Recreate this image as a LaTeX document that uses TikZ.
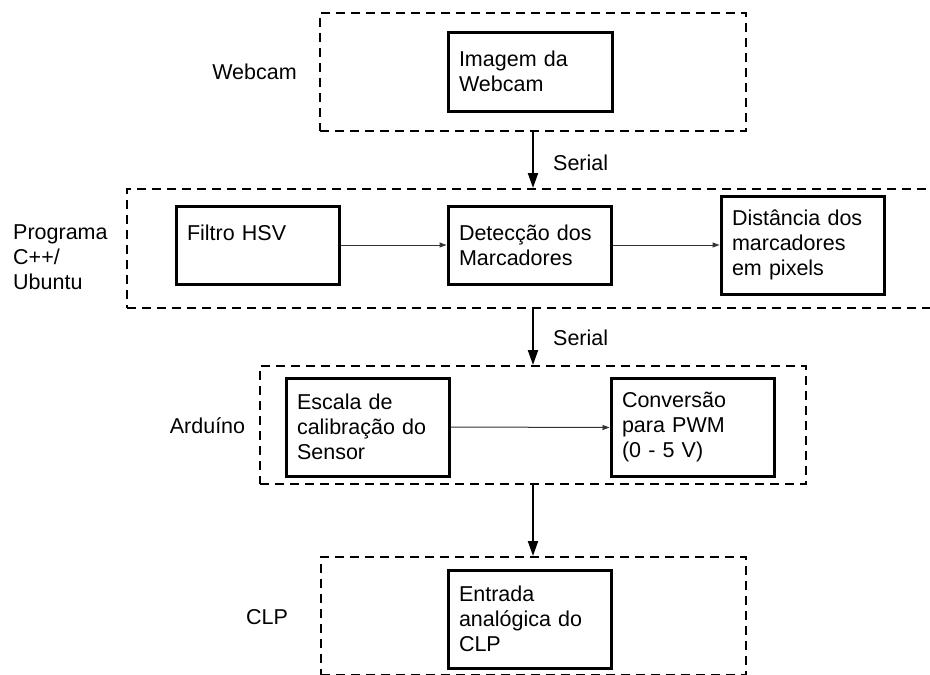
\documentclass[tikz,border=0pt]{standalone}
\usepackage{fontspec}
\setmainfont{Liberation Sans}
\usetikzlibrary{arrows.meta}
\begin{document}
\begin{tikzpicture}[x=1pt,y=-1pt,
  every node/.style={font=\fontsize{21.5}{25}\selectfont, inner sep=0pt},
  blk/.style={draw, line width=3pt, inner xsep=11pt, inner ysep=0pt, align=left},
  grp/.style={draw, line width=2pt, dash pattern=on 9pt off 6pt, inner sep=0pt},
  bigarrow/.style={line width=2pt, -{Triangle[width=10pt,length=15pt]}},
  thinarrow/.style={line width=1pt, draw=black!80, -{Triangle[width=5pt,length=7pt]}}
]
\useasboundingbox (0,0) rectangle (930,675);
\clip (0,0) rectangle (930,675);

% groups
\node[grp, minimum width=426pt, minimum height=118pt] (g1) at (533,72) {};
\node[grp, minimum width=805pt, minimum height=119pt] (g2) at (529.5,248.5) {};
\node[grp, minimum width=546pt, minimum height=118pt] (g3) at (533,425) {};
\node[grp, minimum width=425pt, minimum height=118pt] (g4) at (533.5,616) {};

% blocks
\node[blk, text width=142pt, minimum height=79pt] (img) at (530,71.5) {Imagem da\\Webcam};
\node[blk, text width=141pt, minimum height=78pt] (hsv) at (257.5,245) {Filtro HSV\\\mbox{}};
\node[blk, text width=141pt, minimum height=78pt] (det) at (529.5,245) {Detecção dos\\Marcadores};
\node[blk, text width=141pt, minimum height=98pt] (dist) at (802.5,245) {Distância dos\\marcadores\\em pixels};
\node[blk, text width=141pt, minimum height=98pt] (esc) at (367.5,427) {Escala de\\calibração do\\Sensor};
\node[blk, text width=141pt, minimum height=98pt] (conv) at (692.5,427.5) {Conversão\\para PWM\\(0 - 5 V)};
\node[blk, text width=141pt, minimum height=98pt] (ent) at (529.5,619) {Entrada\\analógica do\\CLP};

% group labels
\node (lweb) at (254.5,72) {Webcam};
\node[align=left, anchor=west] (lprog) at (13,257) {Programa\\C++/\\Ubuntu};
\node (lard) at (207.5,426) {Arduíno};
\node (lclp) at (267,617) {CLP};

% vertical arrows
\draw[bigarrow] (g1.south) -- (g1.south |- g2.north);
\draw[bigarrow] (g3.north |- g2.south) -- (g3.north);
\draw[bigarrow] (g3.south) -- (g3.south |- g4.north);
\node[anchor=west] (s1) at (553,163) {Serial};
\node[anchor=west] (s2) at (553,338) {Serial};

% horizontal arrows
\draw[thinarrow] (hsv.east) -- (det.west);
\draw[thinarrow] (det.east) -- (dist.west);
\draw[thinarrow] (esc.east) -- (conv.west);
\end{tikzpicture}
\end{document}
